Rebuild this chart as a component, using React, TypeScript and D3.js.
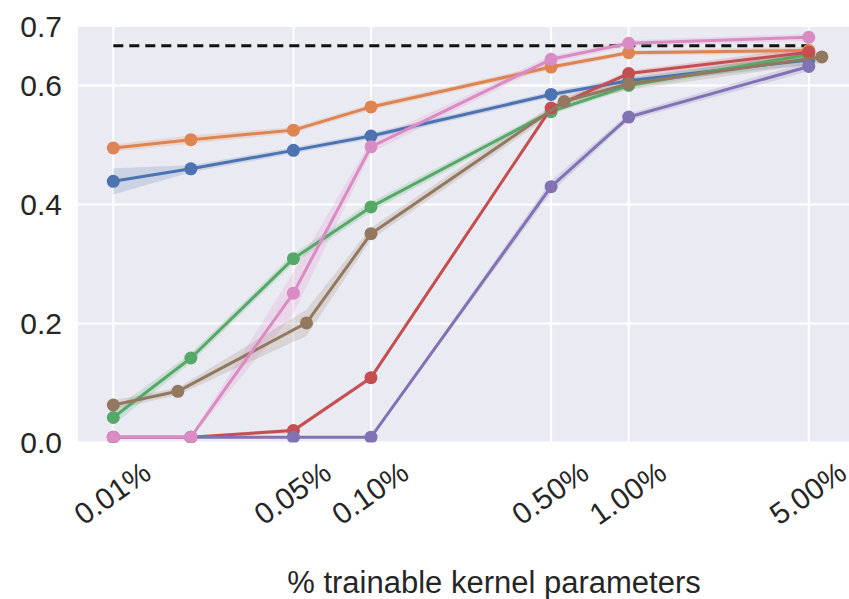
import React from 'react';
import * as d3 from 'd3';

// ---- data ----
const xPct = [0.01, 0.02, 0.05, 0.1, 0.5, 1, 5];
const xPctBrown = [0.01, 0.0178, 0.0562, 0.1, 0.562, 1, 5.62];
const xTickValues = [0.01, 0.05, 0.1, 0.5, 1, 5];
const xTickLabels = ['0.01%', '0.05%', '0.10%', '0.50%', '1.00%', '5.00%'];
const yTickValues = [0, 0.2, 0.4, 0.6, 0.7];
const yTickLabels = ['0.0', '0.2', '0.4', '0.6', '0.7'];
const baselineValue = 0.667;
const baselineRange = [0.01, 5];

const blueVals = [0.439, 0.460, 0.491, 0.515, 0.585, 0.608, 0.643];
const orangeVals = [0.495, 0.509, 0.525, 0.564, 0.631, 0.655, 0.659];
const greenVals = [0.042, 0.142, 0.309, 0.396, 0.556, 0.600, 0.652];
const redVals = [0.009, 0.009, 0.020, 0.109, 0.562, 0.620, 0.656];
const purpleVals = [0.009, 0.009, 0.009, 0.009, 0.430, 0.547, 0.632];
const brownVals = [0.063, 0.086, 0.201, 0.351, 0.573, 0.603, 0.648];
const pinkVals = [0.009, 0.009, 0.251, 0.497, 0.644, 0.671, 0.681];

const blueCI = [0.022, 0.006, 0.005, 0.005, 0.005, 0.006, 0.008];
const orangeCI = [0.006, 0.007, 0.005, 0.005, 0.005, 0.004, 0.006];
const greenCI = [0.012, 0.008, 0.008, 0.008, 0.005, 0.005, 0.008];
const redCI = [0.002, 0.002, 0.004, 0.004, 0.005, 0.005, 0.008];
const purpleCI = [0.001, 0.001, 0.001, 0.001, 0.01, 0.006, 0.008];
const brownCI = [0.008, 0.006, 0.022, 0.01, 0.008, 0.01, 0.01];
const pinkCI = [0.002, 0.002, 0.035, 0.01, 0.006, 0.005, 0.006];

const xLabel = '% trainable kernel parameters';

const series = [
  { color: '#4C72B0', xs: xPct, ys: blueVals, ci: blueCI },
  { color: '#DD8452', xs: xPct, ys: orangeVals, ci: orangeCI },
  { color: '#55A868', xs: xPct, ys: greenVals, ci: greenCI },
  { color: '#C44E52', xs: xPct, ys: redVals, ci: redCI },
  { color: '#8172B3', xs: xPct, ys: purpleVals, ci: purpleCI },
  { color: '#937860', xs: xPctBrown, ys: brownVals, ci: brownCI },
  { color: '#DA8BC3', xs: xPct, ys: pinkVals, ci: pinkCI },
];

const W = 849;
const H = 599;
const FONT = '"Liberation Sans", Arial, Helvetica, sans-serif';
const TEXT = '#262626';

export default function App() {
  const x = d3.scaleLog().domain([0.01, 5]).range([113.3, 808.8]);
  const y = d3.scaleLinear().domain([0, 0.7]).range([442.5, 26]);
  const plotLeft = 78;
  const plotRight = W;
  const plotTop = y(0.7);
  const plotBottom = y(0);

  const line = d3
    .line<[number, number]>()
    .x((d) => x(d[0]))
    .y((d) => y(d[1]));
  const area = d3
    .area<[number, number, number]>()
    .x((d) => x(d[0]))
    .y0((d) => y(d[1] - d[2]))
    .y1((d) => y(d[1] + d[2]));

  return (
    <svg
      width={W}
      height={H}
      style={{ position: 'absolute', left: 0, top: 0, background: '#fff' }}
    >
      <defs>
        <clipPath id="plotclip">
          <rect x={plotLeft} y={plotTop} width={plotRight - plotLeft} height={plotBottom - plotTop} />
        </clipPath>
      </defs>
      <rect x={plotLeft} y={plotTop} width={plotRight - plotLeft} height={plotBottom - plotTop} fill="#EAEAF2" />
      {xTickValues.map((v, i) => (
        <line key={'gx' + i} x1={x(v)} x2={x(v)} y1={plotTop} y2={plotBottom} stroke="#fff" strokeWidth={2} />
      ))}
      {yTickValues.map((v, i) => (
        <line key={'gy' + i} x1={plotLeft} x2={plotRight} y1={y(v)} y2={y(v)} stroke="#fff" strokeWidth={2} />
      ))}
      <g clipPath="url(#plotclip)">
        <line
          x1={x(baselineRange[0])}
          x2={x(baselineRange[1])}
          y1={y(baselineValue)}
          y2={y(baselineValue)}
          stroke="#111"
          strokeWidth={3}
          strokeDasharray="10,6"
        />
        {series.map((s, i) => (
          <path
            key={'band' + i}
            d={area(s.xs.map((xv, j) => [xv, s.ys[j], s.ci[j]] as [number, number, number])) || ''}
            fill={s.color}
            fillOpacity={0.2}
            stroke="none"
          />
        ))}
        {series.map((s, i) => (
          <g key={'s' + i}>
            <path
              d={line(s.xs.map((xv, j) => [xv, s.ys[j]] as [number, number])) || ''}
              fill="none"
              stroke={s.color}
              strokeWidth={3}
              strokeLinejoin="round"
            />
            {s.xs.map((xv, j) => (
              <circle key={j} cx={x(xv)} cy={y(s.ys[j])} r={6.5} fill={s.color} />
            ))}
          </g>
        ))}
      </g>
      {yTickValues.map((v, i) => (
        <text
          key={'ty' + i}
          x={62}
          y={y(v)}
          textAnchor="end"
          dominantBaseline="central"
          fontFamily={FONT}
          fontSize={30}
          fill={TEXT}
        >
          {yTickLabels[i]}
        </text>
      ))}
      {xTickValues.map((v, i) => (
        <text
          key={'tx' + i}
          transform={`translate(${x(v) - 1},${493}) rotate(-35)`}
          textAnchor="middle"
          dominantBaseline="central"
          fontFamily={FONT}
          fontSize={30}
          fill={TEXT}
        >
          {xTickLabels[i]}
        </text>
      ))}
      <text x={494} y={593} textAnchor="middle" fontFamily={FONT} fontSize={31} fill={TEXT}>
        {xLabel}
      </text>
    </svg>
  );
}
